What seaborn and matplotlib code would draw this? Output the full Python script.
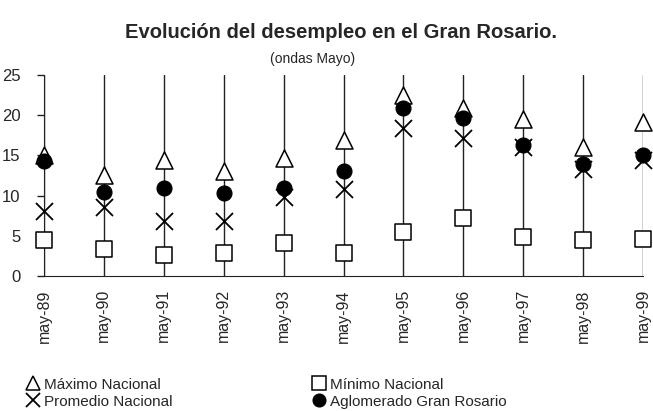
import numpy as np
import pandas as pd
import matplotlib
matplotlib.use("Agg")
import matplotlib.pyplot as plt
import seaborn as sns

# data
periodos = ["may-89", "may-90", "may-91", "may-92", "may-93", "may-94",
            "may-95", "may-96", "may-97", "may-98", "may-99"]
maximo_nacional = [15.0, 12.5, 14.4, 13.0, 14.7, 16.9, 22.5, 20.9, 19.5, 16.1, 19.1]
minimo_nacional = [4.5, 3.4, 2.6, 2.8, 4.1, 2.8, 5.5, 7.2, 4.8, 4.5, 4.6]
promedio_nacional = [8.1, 8.6, 6.9, 6.9, 9.8, 10.8, 18.4, 17.2, 16.0, 13.3, 14.4]
gran_rosario = [14.3, 10.5, 11.0, 10.3, 11.0, 13.1, 20.9, 19.7, 16.3, 13.9, 15.0]
y_ticks = [0, 5, 10, 15, 20, 25]

sns.set_style("white")
plt.rcParams['font.family'] = ['Liberation Sans', 'DejaVu Sans']

df = pd.DataFrame({
    'periodo': periodos,
    'max': maximo_nacional,
    'min': minimo_nacional,
    'prom': promedio_nacional,
    'ros': gran_rosario,
})

fig = plt.figure(figsize=(6.53, 4.11), dpi=100)
ax = fig.add_axes([44 / 653, 1 - 276 / 411, 599 / 653, 201 / 411])

series = [
    ('max', 'Máximo Nacional', dict(marker='^', s=150, facecolor='white', edgecolor='black', linewidth=1.1)),
    ('prom', 'Promedio Nacional', dict(marker='x', s=150, color='black', linewidth=1.3)),
    ('min', 'Mínimo Nacional', dict(marker='s', s=125, facecolor='white', edgecolor='black', linewidth=1.1)),
    ('ros', 'Aglomerado Gran Rosario', dict(marker='o', s=115, color='black', edgecolor='black')),
]
# drawing order: circles end up on top, as in the original
order = ['min', 'max', 'prom', 'ros']
styles = {k: (lab, kw) for k, lab, kw in series}
for k in order:
    lab, kw = styles[k]
    sns.scatterplot(data=df, x='periodo', y=k, ax=ax, zorder=3, legend=False,
                    clip_on=False, **kw)

# vertical lines at each period
for i in range(len(periodos)):
    ax.axvline(i, color='#222222', linewidth=1.0, zorder=1)

ax.set_xlim(0, len(periodos) - 1)
ax.set_ylim(0, 25)
ax.set_yticks(y_ticks)
ax.set_yticklabels([str(t) for t in y_ticks])
ax.set_xlabel('')
ax.set_ylabel('')
sns.despine(ax=ax, top=True, right=True)
ax.spines['left'].set_color('#222222')
ax.spines['bottom'].set_color('#222222')
ax.tick_params(axis='y', left=True, length=5, width=1, pad=12, labelsize=12, color='#222222')
ax.tick_params(axis='x', bottom=False, pad=6, labelsize=11.5, labelrotation=90)

fig.text(0.522, 0.92, 'Evolución del desempleo en el Gran Rosario.',
         ha='center', va='center', fontsize=14.5, fontweight='bold')
fig.text(0.478, 0.857, '(ondas Mayo)', ha='center', va='center', fontsize=10)

# legend below the axes
handles = []
for k, lab, kw in series:
    kw2 = dict(kw)
    s = kw2.pop('s')
    h = plt.Line2D([], [], linestyle='none', marker=kw2['marker'], markersize=np.sqrt(s) * 0.85,
                   markerfacecolor=kw2.get('facecolor', kw2.get('color')),
                   markeredgecolor=kw2.get('edgecolor', kw2.get('color')),
                   markeredgewidth=kw2.get('linewidth', 1.0))
    handles.append(h)
labels = [lab for _, lab, _ in series]
fig.legend(handles, labels, loc='upper left', bbox_to_anchor=(0.03, 0.1), ncol=2,
           frameon=False, fontsize=11, handlelength=0.8, handletextpad=0.3,
           columnspacing=9.2, labelspacing=0.2, borderpad=0)

fig.savefig('out.png', dpi=100)
